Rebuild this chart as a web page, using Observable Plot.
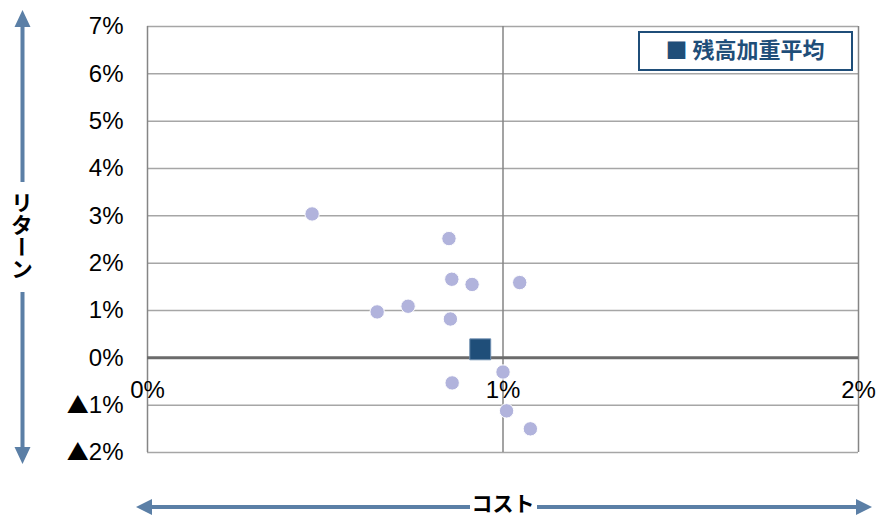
<!DOCTYPE html>
<html><head><meta charset="utf-8">
<script src="https://cdn.jsdelivr.net/npm/d3@7"></script>
<script src="https://cdn.jsdelivr.net/npm/@observablehq/plot@0.6"></script>
<style>body{margin:0;background:#fff} #chart{width:878px;height:518px}</style>
</head><body><div id="chart"></div>
<script>
const costs   = [0.463, 0.848, 0.856, 0.913, 1.047, 0.646, 0.733, 0.852, 0.857, 1.000, 1.010, 1.077];
const returns = [3.04,  2.52,  1.66,  1.55,  1.59,  0.97,  1.09,  0.82, -0.53, -0.30, -1.12, -1.50];
const avgCost = [0.936];
const avgReturn = [0.18];
const yTicks = [-2, -1, 0, 1, 2, 3, 4, 5, 6, 7];
const xTicks = [0, 1, 2];
const legendLabel = "残高加重平均";
const xTitle = "コスト";
const yTitle = "リターン";

const funds = costs.map((c, i) => ({cost: c, ret: returns[i]}));
const avg = avgCost.map((c, i) => ({cost: c, ret: avgReturn[i]}));
const font = "'Liberation Sans', Arial, sans-serif";
const jp = "'Noto Sans CJK JP', sans-serif";
const arrowColor = "#5b7fa6";

const plot = Plot.plot({
  width: 878, height: 518,
  marginLeft: 147, marginRight: 20, marginTop: 26, marginBottom: 66,
  x: {domain: [0, 2], axis: null},
  y: {domain: [-2, 7]},
  style: {fontFamily: font, background: "white", overflow: "visible"},
  marks: [
    Plot.ruleY(yTicks.filter(d => d !== 0), {stroke: "#a6a6a6", strokeWidth: 1.5}),
    Plot.ruleX(xTicks, {stroke: "#858585", strokeWidth: 1.5}),
    Plot.ruleY([0], {stroke: "#6b6b6b", strokeWidth: 3}),
    Plot.axisY(yTicks, {tickSize: 0, tickPadding: 24, fontSize: 24, fill: "black", label: null,
      tickFormat: d => d < 0 ? "▲" + (-d) + "%" : d + "%"}),
    Plot.text(xTicks, {x: d => d, y: () => 0, dy: 32, text: d => d + "%", fontSize: 24, fill: "black"}),
    Plot.dot(funds, {x: "cost", y: "ret", r: 7.2, fill: "#b1b3dc", stroke: "white", strokeWidth: 1}),
    Plot.dot(avg, {x: "cost", y: "ret", symbol: "square", r: 11.8, fill: "#1f4e79", stroke: "#6f8fb0", strokeWidth: 1})
  ]
});
document.getElementById("chart").appendChild(plot);

const svg = d3.select(plot);
// enlarge the ▲ glyph in negative tick labels
svg.selectAll("text").each(function() {
  const t = this.textContent;
  if (t.startsWith("▲") && this.children.length === 0) {
    const sel = d3.select(this);
    sel.text("");
    sel.append("tspan").attr("font-family", jp).attr("font-size", 22).text("▲");
    sel.append("tspan").text(t.slice(1));
  }
});

const g = svg.append("g");
// legend
g.append("rect").attr("x", 639).attr("y", 32).attr("width", 213).attr("height", 38)
  .attr("fill", "white").attr("stroke", "#1f4e79").attr("stroke-width", 2);
g.append("text").attr("x", 745).attr("y", 52).attr("text-anchor", "middle").attr("dominant-baseline", "middle")
  .attr("font-family", jp).attr("font-weight", "bold").attr("font-size", 22).attr("fill", "#1f4e79")
  .text("■ " + legendLabel);

// y arrow
g.append("line").attr("x1", 22.5).attr("x2", 22.5).attr("y1", 26).attr("y2", 182)
  .attr("stroke", arrowColor).attr("stroke-width", 4);
g.append("line").attr("x1", 22.5).attr("x2", 22.5).attr("y1", 292).attr("y2", 448)
  .attr("stroke", arrowColor).attr("stroke-width", 4);
g.append("path").attr("d", "M22.5,10 L14.5,27 L30.5,27 Z").attr("fill", arrowColor);
g.append("path").attr("d", "M22.5,464 L14.5,447 L30.5,447 Z").attr("fill", arrowColor);
g.append("text").attr("x", 22).attr("y", 236).attr("text-anchor", "middle")
  .attr("style", "writing-mode: vertical-rl").attr("font-family", jp).attr("font-weight", "bold")
  .attr("font-size", 22).attr("fill", "black").text(yTitle);

// x arrow
g.append("line").attr("x1", 150).attr("x2", 470).attr("y1", 507).attr("y2", 507)
  .attr("stroke", arrowColor).attr("stroke-width", 4);
g.append("line").attr("x1", 537).attr("x2", 858).attr("y1", 507).attr("y2", 507)
  .attr("stroke", arrowColor).attr("stroke-width", 4);
g.append("path").attr("d", "M136,507 L152,499 L152,515 Z").attr("fill", arrowColor);
g.append("path").attr("d", "M872,507 L856,499 L856,515 Z").attr("fill", arrowColor);
g.append("text").attr("x", 503).attr("y", 505).attr("text-anchor", "middle").attr("dominant-baseline", "middle")
  .attr("font-family", jp).attr("font-weight", "bold").attr("font-size", 21).attr("fill", "black").text(xTitle);
</script>
</body></html>
